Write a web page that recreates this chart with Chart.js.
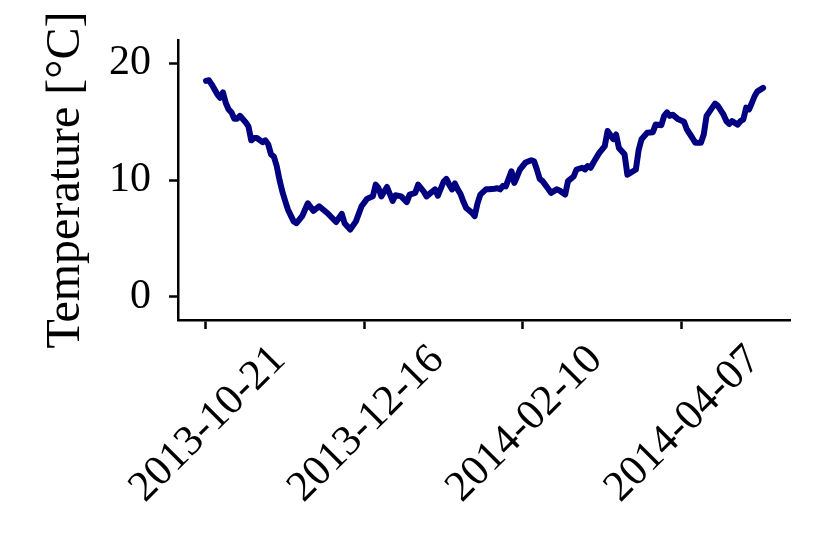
<!DOCTYPE html>
<html lang="en">
<head>
<meta charset="UTF-8">
<title>Temperature</title>
<script src="https://cdn.jsdelivr.net/npm/chart.js"></script>
<style>
    html, body { margin: 0; padding: 0; background: #fff; }
    #wrap { width: 830px; height: 554px; }
</style>
</head>
<body>
<div id="wrap"><canvas id="tempChart" width="830" height="554"></canvas></div>
<script>
// days counted from 2013-10-21, temperature
const days = [0, 1, 2, 4, 5, 6, 7, 8, 9, 10, 11, 12, 14, 15, 16, 17, 18, 20, 21, 22,
    23, 24, 25, 26, 27, 28, 29, 30, 31, 32, 34, 36, 38, 40, 43, 46, 48, 49, 51, 53,
    55, 57, 59, 60, 61, 62, 64, 66, 67, 69, 71, 72, 74, 75, 77, 78, 80, 81, 82, 84,
    85, 86, 87, 88, 89, 90, 91, 92, 94, 95, 96, 97, 99, 100, 102, 103, 104, 105, 106, 108,
    109, 110, 111, 112, 113, 115, 116, 117, 118, 119, 121, 122, 124, 125, 127, 128, 130, 131, 133, 134,
    135, 136, 137, 139, 141, 142, 144, 145, 146, 148, 149, 151, 152, 153, 154, 156, 158, 159, 161, 162,
    163, 164, 165, 167, 169, 170, 172, 173, 175, 176, 177, 179, 180, 181, 183, 184, 185, 186, 188, 189,
    190, 191, 192, 193, 194, 195, 197];
const temps = [18.5, 18.55, 18.2, 17.35, 17.05, 17.5, 16.6, 16.05, 15.8, 15.25, 15.25, 15.5, 14.95, 14.6, 13.4, 13.6, 13.6, 13.25, 13.4, 13.05,
    12.2, 12.0, 11.2, 10.0, 9.0, 8.2, 7.45, 6.95, 6.45, 6.3, 6.9, 8.0, 7.35, 7.75, 7.15, 6.4, 7.1, 6.3, 5.75, 6.45,
    7.75, 8.4, 8.6, 9.6, 9.3, 8.6, 9.4, 8.2, 8.7, 8.6, 8.1, 8.75, 8.9, 9.6, 9.0, 8.6, 9.0, 9.2, 8.65, 9.85,
    10.1, 9.6, 9.2, 9.7, 9.2, 8.8, 8.15, 7.6, 7.2, 6.9, 8.0, 8.75, 9.2, 9.2, 9.25, 9.3, 9.2, 9.5, 9.45, 10.75,
    9.75, 10.3, 10.9, 11.2, 11.5, 11.7, 11.6, 10.9, 10.1, 9.9, 9.25, 8.9, 9.2, 9.1, 8.75, 9.9, 10.3, 10.9, 11.05, 10.9,
    11.2, 11.05, 11.5, 12.3, 12.9, 14.2, 13.5, 13.9, 12.75, 12.2, 10.45, 10.75, 10.9, 12.6, 13.5, 14.05, 14.1, 14.75, 14.7, 15.5,
    15.8, 15.5, 15.6, 15.2, 15.0, 14.35, 13.6, 13.2, 13.2, 13.9, 15.5, 16.2, 16.55, 16.35, 15.6, 15.05, 14.8, 15.05, 14.75, 15.05,
    15.2, 16.2, 16.05, 16.6, 17.2, 17.6, 17.9];

const tickDays = [0, 56, 112, 168];
const tickLabels = ['2013-10-21', '2013-12-16', '2014-02-10', '2014-04-07'];
const yTicks = [0, 10, 20];

const serif = "'Liberation Serif', 'DejaVu Serif', serif";

const points = days.map((d, i) => ({ x: d, y: temps[i] }));

new Chart(document.getElementById('tempChart'), {
    type: 'line',
    data: {
        datasets: [{
            data: points,
            borderColor: '#000080',
            borderWidth: 6,
            pointRadius: 0,
            tension: 0,
            borderJoinStyle: 'round',
            borderCapStyle: 'round'
        }]
    },
    options: {
        responsive: false,
        animation: false,
        layout: { padding: { left: 0, right: 40, top: 40, bottom: 0 } },
        plugins: { legend: { display: false }, tooltip: { enabled: false } },
        scales: {
            x: {
                type: 'linear',
                min: -9.9,
                max: 206.5,
                afterBuildTicks: s => { s.ticks = tickDays.map(v => ({ value: v })); },
                afterFit: s => { s.height = 234; s.paddingLeft = 0; s.paddingRight = 0; },
                ticks: {
                    autoSkip: false,
                    minRotation: 45,
                    maxRotation: 45,
                    labelOffset: 73,
                    padding: 6,
                    color: '#000',
                    font: { family: serif, size: 43 },
                    callback: v => tickLabels[tickDays.indexOf(v)]
                },
                grid: { drawOnChartArea: false, drawTicks: true, tickLength: 9, tickWidth: 2.5, tickColor: '#000' },
                border: { display: true, color: '#000', width: 2.5 }
            },
            y: {
                min: -2,
                max: 22,
                afterBuildTicks: s => { s.ticks = yTicks.map(v => ({ value: v })); },
                afterFit: s => { s.width = 178; s.paddingTop = 0; s.paddingBottom = 0; },
                ticks: {
                    padding: 18,
                    color: '#000',
                    font: { family: serif, size: 42 }
                },
                title: {
                    display: true,
                    text: 'Temperature [°C]',
                    color: '#000',
                    font: { family: serif, size: 48 },
                    padding: { top: 38, bottom: 0 }
                },
                grid: { drawOnChartArea: false, drawTicks: true, tickLength: 9, tickWidth: 2.5, tickColor: '#000' },
                border: { display: true, color: '#000', width: 2.5 }
            }
        }
    }
});
</script>
</body>
</html>
